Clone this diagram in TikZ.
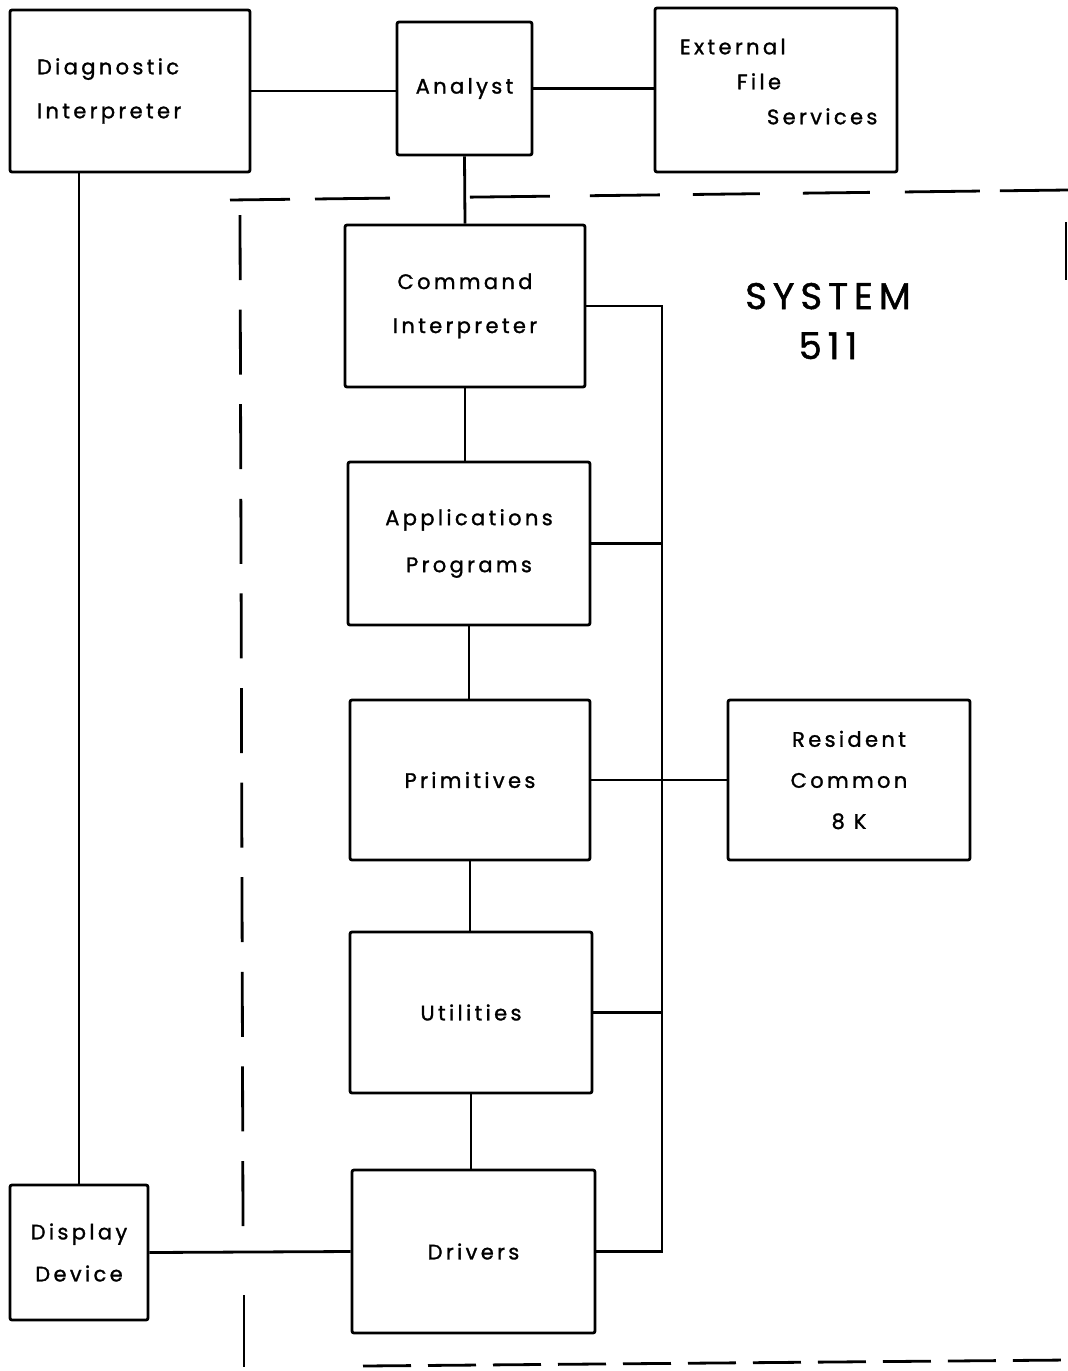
\documentclass[tikz,border=0pt]{standalone}
\usepackage{fontspec}
\setmainfont{Poppins}[LetterSpace=16, FakeBold=1.3]
\usetikzlibrary{calc}

\tikzset{
  block/.style={draw, line width=2.8pt, rounded corners=2pt, align=center,
    inner sep=0pt, font=\fontsize{21}{44}\selectfont},
  wire/.style={line width=2.8pt},
  border/.style={line width=2.8pt}
}

\begin{document}
\begin{tikzpicture}[x=1pt, y=-1pt]
  \useasboundingbox (0,0) rectangle (1068,1371);

  % outside the system
  \node[block, minimum width=240pt, minimum height=162pt, text width=186pt, align=left] (diag) at (130,91) {Diagnostic\\Interpreter};
  \node[block, minimum width=135pt, minimum height=133pt] (analyst) at (464.5,88.5) {Analyst};
  \node[block, minimum width=242pt, minimum height=164pt, text width=192pt, align=left,
        font=\fontsize{21}{35}\selectfont] (extfs) at (776,90) {\mbox{External}\\\hspace*{57pt}\mbox{File}\\\hspace*{87pt}\mbox{Services}\\[-18pt]\mbox{}};
  \node[block, minimum width=138pt, minimum height=135pt, font=\fontsize{21}{42}\selectfont] (display) at (79,1252.5) {Display\\Device};

  % system 511
  \node[font=\fontsize{37}{50}\selectfont, align=center] (sys) at (828,321) {SYSTEM\\511};
  \node[block, minimum width=240pt, minimum height=162pt] (cmd) at (465,306) {Command\\Interpreter};
  \node[block, minimum width=242pt, minimum height=163pt, font=\fontsize{21}{47}\selectfont] (apps) at (469,543.5) {Applications\\Programs};
  \node[block, minimum width=240pt, minimum height=160pt] (prim) at (470,780) {Primitives};
  \node[block, minimum width=242pt, minimum height=160pt, font=\fontsize{21}{41}\selectfont] (resident) at (849,780) {Resident\\Common\\8 K};
  \node[block, minimum width=242pt, minimum height=161pt] (util) at (471,1012.5) {Utilities};
  \node[block, minimum width=243pt, minimum height=163pt] (drivers) at (473.5,1251.5) {Drivers};

  \coordinate (bus) at (662,0);

  % connections
  \draw[wire] (diag.east) -- (analyst.west |- diag.east);
  \draw[wire] (analyst.east) -- (extfs.west |- analyst.east);
  \draw[wire] (analyst.south) -- (cmd.north);
  \draw[wire] (cmd.south) -- (cmd.south |- apps.north);
  \draw[wire] (apps.south) -- (apps.south |- prim.north);
  \draw[wire] (prim.south) -- (prim.south |- util.north);
  \draw[wire] (util.south) -- (util.south |- drivers.north);
  \draw[wire] (cmd.east) -| (bus |- drivers.east) -- (drivers.east);
  \draw[wire] (apps.east) -- (bus |- apps.east);
  \draw[wire] (prim.east) -- (resident.west);
  \draw[wire] (util.east) -- (bus |- util.east);
  \draw[wire] (diag.south -| display.north) -- (display.north);
  \draw[wire] (display.east) -- (drivers.west);

  % system boundary
  \draw[border, dash pattern=on 60pt off 25pt on 75pt off 80pt on 80pt off 40pt on 70pt off 33pt
        on 67pt off 43pt on 67pt off 35pt on 75pt off 20pt on 70pt off 30pt] (230,200) -- (1068,190);
  \draw[border, dash pattern=on 65pt off 29.6pt] (240,215) -- (243,1226);
  \draw[border] (244,1295) -- (244,1367);
  \draw[border, dash pattern=on 48pt off 17pt] (363,1366) -- (1068,1360);
  \draw[border] (1066,222) -- (1066,280);
\end{tikzpicture}
\end{document}
